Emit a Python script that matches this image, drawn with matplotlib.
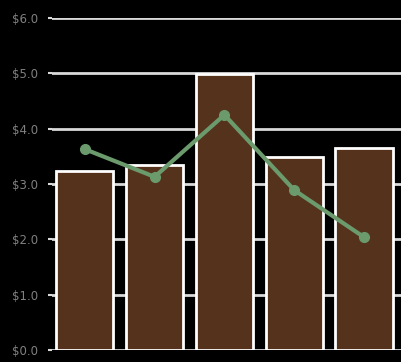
import matplotlib
matplotlib.use("Agg")
import matplotlib.pyplot as plt
from matplotlib.ticker import FuncFormatter

# data
categories = ["A", "B", "C", "D", "E"]
bar_values = [3.24, 3.35, 4.99, 3.49, 3.65]
line_values = [3.63, 3.13, 4.25, 2.89, 2.04]
y_ticks = [0, 1, 2, 3, 4, 5, 6]

fig = plt.figure(figsize=(4.01, 3.62), dpi=100, facecolor="black")
ax = fig.add_axes([0.1297, 0.0331, 0.8703, 0.9171], facecolor="black")

x = list(range(len(categories)))
ax.bar(x, bar_values, width=0.82, color="#55321c", edgecolor="white", linewidth=2, zorder=2)
ax.plot(x, line_values, color="#6b9a6d", linewidth=3, marker="o", markersize=7, zorder=3)

ax.set_xlim(-0.47, 4.53)
ax.set_ylim(0, 6)
ax.set_yticks(y_ticks)
ax.yaxis.set_major_formatter(FuncFormatter(lambda v, p: "${:.1f}".format(v)))
ax.set_xticks([])
ax.grid(axis="y", color="#d9d9d9", linewidth=2, zorder=1)
ax.tick_params(axis="y", colors="#d9d9d9", labelcolor="#808080", length=3, width=1.5,
               labelsize=8.5, pad=7)
for s in ax.spines.values():
    s.set_visible(False)

fig.savefig("out.png", dpi=100, facecolor="black")
